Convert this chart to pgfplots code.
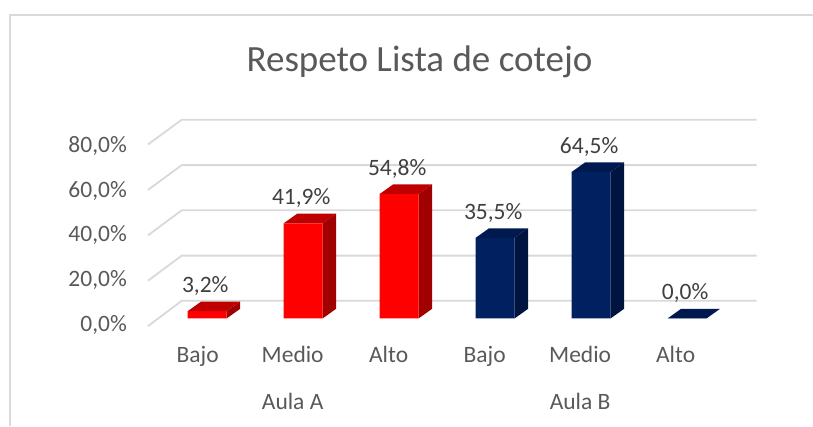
\documentclass[border=0pt]{standalone}
\usepackage{fontspec}
\setmainfont{Carlito}
\usepackage{pgfplots}
\pgfplotsset{compat=1.18}
\definecolor{rojoF}{HTML}{FF0000}
\definecolor{rojoT}{HTML}{BF0000}
\definecolor{rojoS}{HTML}{A00000}
\definecolor{azulF}{HTML}{002060}
\definecolor{azulT}{HTML}{001A4F}
\definecolor{azulS}{HTML}{001440}
\definecolor{rejilla}{HTML}{D9D9D9}
\definecolor{ejes}{HTML}{595959}
\definecolor{datos}{HTML}{404040}

\begin{document}
\begin{tikzpicture}
\begin{axis}[
  width=813pt,height=426pt,scale only axis,
  xmin=-2.158,xmax=6.31,ymin=-47.4,ymax=140.2,
  axis line style={draw=none},major tick length=0pt,
  font=\fontsize{23.5}{28}\selectfont,
  title={Respeto Lista de cotejo},
  title style={at={(axis description cs:0.516,0.84)},anchor=center,inner sep=0pt,text=ejes,font=\fontsize{37}{44}\selectfont},
  ytick={-2.97,16.85,36.7,56.2,75.8},
  yticklabels={{0,0\%},{20,0\%},{40,0\%},{60,0\%},{80,0\%}},
  yticklabel style={anchor=east,xshift=127pt,text=ejes,inner sep=0pt},
  xtick={-0.1,0.89,1.89,2.89,3.885,4.88},
  xticklabels={Bajo,Medio,Alto,Bajo,Medio,Alto},
  xticklabel style={anchor=base,yshift=63.3pt,text=ejes,inner sep=0pt},
  extra x ticks={0.89,3.885},
  extra x tick labels={Aula A,Aula B},
  extra x tick style={xticklabel style={yshift=-46.3pt}},
  /pgf/number format/.cd,use comma,fixed,fixed zerofill,precision=1,assume math mode=true,
  /pgfplots/.cd,
  etiqueta/.style={
    nodes near coords={\pgfmathprintnumber{\pgfplotspointmeta}\%},
    every node near coord/.append style={anchor=center,yshift=25pt,xshift=-2pt,inner sep=0pt,text=datos,font=\fontsize{23.5}{28}\selectfont},
  },
]
% marco del grafico
\addplot[rejilla,line width=2pt] coordinates {(-2.054,-47.4)(-2.054,133.7)(6.31,133.7)};
% rejilla con perspectiva
\addplot[rejilla,line width=1.8pt] coordinates {(-0.617,-3.4)(-0.266,7.75)(5.724,7.75)};
\addplot[rejilla,line width=1.8pt] coordinates {(-0.617,16.6)(-0.266,27.65)(5.724,27.65)};
\addplot[rejilla,line width=1.8pt] coordinates {(-0.617,36.6)(-0.266,47.6)(5.724,47.6)};
\addplot[rejilla,line width=1.8pt] coordinates {(-0.617,56.6)(-0.266,67.5)(5.724,67.5)};
\addplot[rejilla,line width=1.8pt] coordinates {(-0.617,76.6)(-0.266,87.5)(5.724,87.5)};
% Aula A: tapas y laterales
\addplot[fill=rojoT,draw=none] coordinates {(-0.203,3.2)(0.203,3.2)(0.342,7.4)(-0.064,7.4)} -- cycle;
\addplot[fill=rojoS,draw=none] coordinates {(0.203,0)(0.342,4.2)(0.342,7.4)(0.203,3.2)} -- cycle;
\addplot[fill=rojoT,draw=none] coordinates {(0.797,41.9)(1.203,41.9)(1.342,46.1)(0.936,46.1)} -- cycle;
\addplot[fill=rojoS,draw=none] coordinates {(1.203,0)(1.342,4.2)(1.342,46.1)(1.203,41.9)} -- cycle;
\addplot[fill=rojoT,draw=none] coordinates {(1.797,54.8)(2.203,54.8)(2.342,59)(1.936,59)} -- cycle;
\addplot[fill=rojoS,draw=none] coordinates {(2.203,0)(2.342,4.2)(2.342,59)(2.203,54.8)} -- cycle;
% Aula B: tapas y laterales
\addplot[fill=azulT,draw=none] coordinates {(2.797,35.5)(3.203,35.5)(3.342,39.7)(2.936,39.7)} -- cycle;
\addplot[fill=azulS,draw=none] coordinates {(3.203,0)(3.342,4.2)(3.342,39.7)(3.203,35.5)} -- cycle;
\addplot[fill=azulT,draw=none] coordinates {(3.797,64.5)(4.203,64.5)(4.342,68.7)(3.936,68.7)} -- cycle;
\addplot[fill=azulS,draw=none] coordinates {(4.203,0)(4.342,4.2)(4.342,68.7)(4.203,64.5)} -- cycle;
\addplot[fill=azulT,draw=none] coordinates {(4.797,0)(5.203,0)(5.342,4.2)(4.936,4.2)} -- cycle;
% caras frontales
\addplot[ybar,bar width=39pt,bar shift=0pt,fill=rojoF,draw=none,etiqueta] coordinates {(0,3.2)(1,41.9)(2,54.8)};
\addplot[ybar,bar width=39pt,bar shift=0pt,fill=azulF,draw=none,etiqueta] coordinates {(3,35.5)(4,64.5)(5,0)};
\end{axis}
\end{tikzpicture}
\end{document}
